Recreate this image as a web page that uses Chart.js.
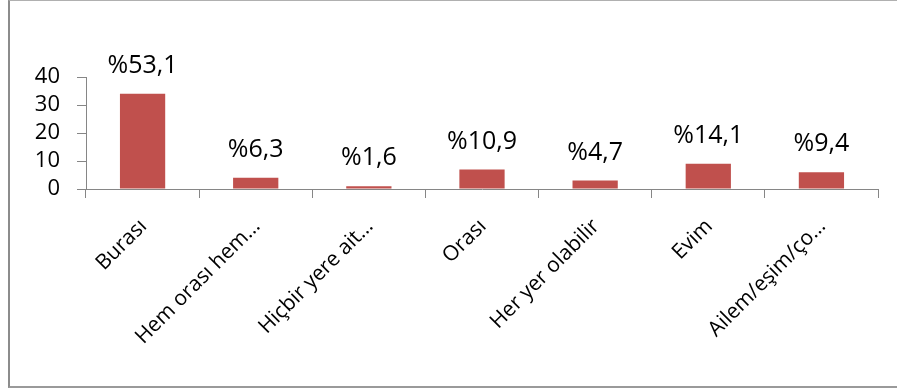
<!DOCTYPE html>
<html>
<head>
<meta charset="utf-8">
<script src="https://cdn.jsdelivr.net/npm/chart.js@4/dist/chart.umd.min.js"></script>
<style>
  html, body { margin: 0; padding: 0; background: #fff; overflow: hidden; }
  #wrap { position: relative; width: 897px; height: 389px; }
  #frame {
    position: absolute; left: 8px; top: 0; width: 900px; height: 385px;
    border-left: 2px solid #8c8c8c; border-top: 1px solid #b0b0b0; border-bottom: 2px solid #9a9a9a;
  }
  canvas { position: absolute; left: 0; top: 0; }
</style>
</head>
<body>
<div id="wrap">
  <div id="frame"></div>
  <canvas id="chart" width="897" height="389"></canvas>
</div>
<script>
const categories = [
  "Burası",
  "Hem orası hem…",
  "Hiçbir yere ait…",
  "Orası",
  "Her yer olabilir",
  "Evim",
  "Ailem/eşim/ço…",
];
const counts = [34, 4, 1, 7, 3, 9, 6];
const percentLabels = ["%53,1", "%6,3", "%1,6", "%10,9", "%4,7", "%14,1", "%9,4"];
const yTicks = [0, 10, 20, 30, 40];

const axisColor = "#868686";
const fontFamily = "'Open Sans', sans-serif";

// percentage text floating above each bar
const barLabels = {
  id: "barLabels",
  afterDatasetsDraw(chart) {
    const ctx = chart.ctx;
    const meta = chart.getDatasetMeta(0);
    ctx.save();
    ctx.font = "25px " + fontFamily;
    ctx.fillStyle = "#000";
    ctx.textAlign = "center";
    ctx.textBaseline = "middle";
    meta.data.forEach((bar, i) => {
      ctx.fillText(percentLabels[i], bar.x, bar.y - 28);
    });
    ctx.restore();
  },
};

new Chart(document.getElementById("chart"), {
  type: "bar",
  data: {
    labels: categories,
    datasets: [{
      data: counts,
      backgroundColor: "#C0504D",
      barPercentage: 0.4,
      categoryPercentage: 1,
    }],
  },
  options: {
    responsive: false,
    animation: false,
    layout: { padding: { top: 77, left: 0, right: 19, bottom: 0 } },
    plugins: { legend: { display: false }, tooltip: { enabled: false } },
    scales: {
      x: {
        afterFit(scale) { scale.height = 200; },
        grid: { drawOnChartArea: false, tickLength: 9, color: axisColor },
        border: { color: axisColor },
        ticks: {
          autoSkip: false,
          minRotation: 45,
          maxRotation: 45,
          padding: 16,
          labelOffset: 1,
          color: "#000",
          font: { family: fontFamily, size: 21 },
        },
      },
      y: {
        min: 0,
        max: 40,
        afterFit(scale) { scale.width = 86; },
        afterBuildTicks(scale) { scale.ticks = yTicks.map(v => ({ value: v })); },
        grid: { drawOnChartArea: false, tickLength: 9, color: axisColor },
        border: { color: axisColor },
        ticks: {
          autoSkip: false,
          padding: 17,
          color: "#000",
          font: { family: fontFamily, size: 22 },
        },
      },
    },
  },
  plugins: [barLabels],
});
</script>
</body>
</html>
